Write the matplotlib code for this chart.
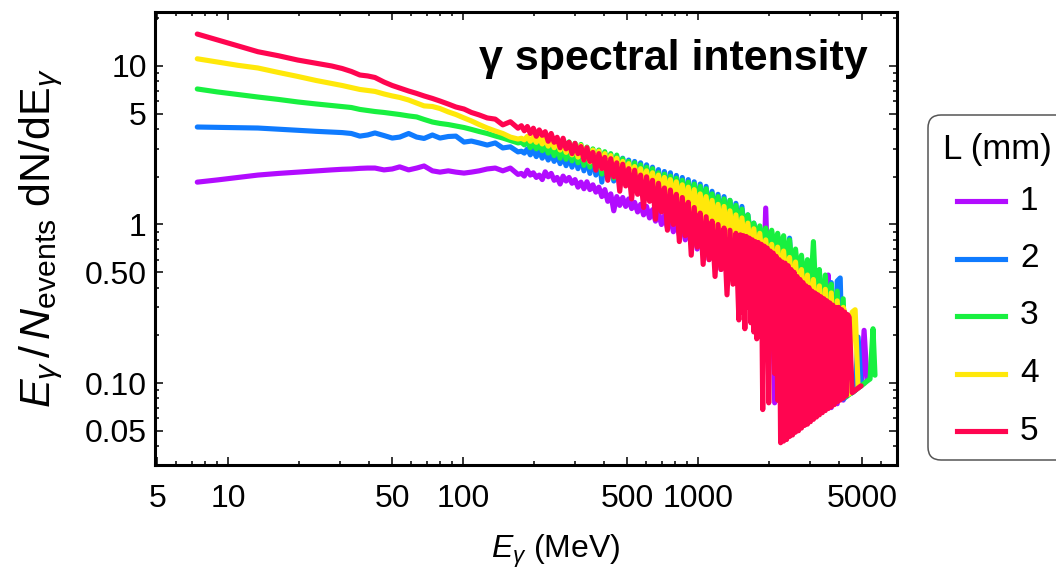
import matplotlib
matplotlib.use("Agg")
import matplotlib.pyplot as plt
from matplotlib.ticker import FixedLocator, FixedFormatter, NullFormatter
from matplotlib.patches import FancyBboxPatch
from matplotlib.lines import Line2D

plt.rcParams['font.family'] = ['Liberation Sans', 'DejaVu Sans']
plt.rcParams['mathtext.fontset'] = 'custom'
plt.rcParams['mathtext.rm'] = 'Liberation Sans'
plt.rcParams['mathtext.it'] = 'Liberation Sans:italic'
plt.rcParams['mathtext.bf'] = 'Liberation Sans:bold'

# ---------------------------------------------------------------- data
# photon energy sampling (MeV)
E_LOW = [7.4, 9.0, 11.0, 13.4, 16.4, 19.8, 23.7, 27.6, 30.6, 33.5, 36.4, 39.3,
         42.2, 46.1, 50.0, 53.8, 58.7, 63.5, 68.3, 74.1, 79.8, 86.6, 93.3, 101,
         108.6, 117.2, 126.8, 137.2, 147.7, 159.1, 171.4]

E_HIGH = [177.2, 182.4, 187.9, 193.4, 199.2, 205.1, 211.1, 217.4, 223.8, 230.5,
          237.3, 244.3, 251.5, 259.0, 266.7, 274.6, 282.7, 291.1, 299.7, 308.6,
          317.7, 327.1, 336.8, 346.8, 357.1, 367.7, 378.6, 389.8, 401.3, 413.2,
          425.5, 438.1, 451.1, 464.5, 478.3, 492.5, 507.1, 522.1, 537.6, 553.5,
          569.9, 586.8, 604.2, 622.1, 640.5, 659.5, 679.0, 699.1, 719.8, 741.2,
          763.1, 785.7, 809.0, 833.0, 857.6, 883.0, 909.2, 936.1, 963.9, 992.5,
          1022, 1052, 1083, 1115, 1148, 1182, 1217, 1253, 1291, 1329,
          1368, 1409, 1450, 1493, 1538, 1583, 1630, 1678, 1728, 1779,
          1832, 1886, 1942, 2000, 2059, 2120, 2183, 2247, 2314, 2382,
          2453, 2526, 2601, 2678, 2757, 2839, 2923, 3010, 3099, 3191,
          3286, 3383, 3483, 3586, 3692, 3802, 3914, 4030, 4150, 4273,
          4400, 4530, 4665, 4803, 4945, 5092, 5243, 5398, 5558]
E_LAST = [5666]

# finer sampling used for the L = 5 mm spectrum above 1.5 GeV
E_RED_FINE = [1493, 1515, 1537, 1560, 1583, 1606, 1630, 1654, 1678, 1703,
              1728, 1753, 1779, 1805, 1832, 1859, 1886, 1914, 1942, 1971,
              2000, 2029, 2059, 2089, 2120, 2151, 2183, 2215, 2247, 2280,
              2314, 2348, 2382, 2417, 2453, 2489, 2526, 2563, 2601, 2639,
              2678, 2717, 2757, 2798, 2839, 2881, 2923, 2966, 3010, 3054,
              3099, 3145, 3191, 3238, 3286, 3334, 3383, 3433, 3483, 3534,
              3586, 3639, 3692, 3747, 3802, 3858, 3914, 3972, 4030, 4089,
              4150, 4211, 4273, 4336, 4400]
E_RED_TAIL = [4530, 4665, 4803, 4945]

# E/N dN/dE, L = 1 mm
purple_low = [1.85, 1.91, 1.98, 2.05, 2.10, 2.14, 2.18, 2.21, 2.23, 2.24, 2.26,
              2.27, 2.27, 2.21, 2.24, 2.31, 2.21, 2.27, 2.34, 2.18, 2.14, 2.18,
              2.14, 2.11, 2.14, 2.18, 2.24, 2.27, 2.18, 2.27, 2.07]
purple_high = [2.1, 2.02, 2.2, 2.05, 2.12, 1.98, 2.05, 1.92, 2.15, 2.0,
               2.1, 1.9, 1.98, 1.8, 2.02, 1.88, 1.98, 1.82, 1.92, 1.72,
               1.85, 1.68, 1.86, 1.66, 1.78, 1.6, 1.72, 1.5, 1.66, 1.4,
               1.56, 1.22, 1.5, 1.32, 1.48, 1.3, 1.45, 1.26, 1.38, 1.2,
               1.34, 1.15, 1.3, 1.1, 1.24, 1.05, 1.18, 1.0, 1.14, 0.95,
               1.1, 0.9, 1.05, 0.86, 1.0, 0.8, 0.97, 0.75, 0.93, 0.7,
               0.9, 0.66, 0.86, 0.6, 0.82, 0.56, 0.8, 0.52, 0.76, 0.48,
               0.73, 0.45, 0.7, 0.42, 0.66, 0.38, 0.62, 0.35, 0.6, 0.32,
               0.56, 0.3, 1.27, 0.32, 0.5, 0.075, 0.46, 0.3, 0.48, 0.28,
               0.5, 0.25, 0.62, 0.22, 0.46, 0.2, 0.43, 0.16, 0.4, 0.13,
               0.36, 0.1, 0.34, 0.48, 0.07, 0.3, 0.074, 0.26, 0.078, 0.2,
               0.085, 0.087, 0.09, 0.093, 0.096, 0.215, 0.103]

# L = 2 mm
blue_low = [4.12, 4.10, 4.08, 4.06, 3.99, 3.93, 3.87, 3.83, 3.80, 3.75, 3.61,
            3.67, 3.78, 3.64, 3.51, 3.56, 3.75, 3.56, 3.49, 3.67, 3.51, 3.59,
            3.61, 3.31, 3.36, 3.27, 3.17, 3.27, 3.04, 3.09, 2.87]
blue_high = [2.9, 2.82, 3.0, 2.75, 2.95, 2.68, 2.9, 2.62, 2.85, 2.55,
             2.8, 2.5, 2.75, 2.42, 2.72, 2.35, 2.68, 2.3, 2.7, 2.25,
             2.75, 2.18, 2.7, 2.1, 2.72, 2.05, 2.75, 1.85, 2.8, 1.95,
             2.75, 1.88, 2.68, 1.8, 2.62, 1.82, 2.55, 1.72, 2.5, 1.65,
             2.45, 1.6, 2.38, 1.52, 2.3, 1.48, 2.22, 1.44, 2.16, 1.38,
             2.12, 1.33, 2.04, 1.28, 1.98, 1.25, 1.92, 1.2, 1.86, 1.15,
             1.8, 1.1, 1.74, 1.06, 1.62, 1.02, 1.55, 0.98, 1.5, 0.95,
             1.42, 0.92, 1.36, 0.9, 1.3, 0.86, 1.15, 0.82, 1.02, 0.75,
             0.95, 0.62, 0.88, 0.55, 0.84, 0.5, 0.8, 0.45, 0.74, 0.4,
             0.82, 0.38, 0.62, 0.32, 0.58, 0.28, 0.55, 0.25, 0.6, 0.22,
             0.5, 0.18, 0.45, 0.14, 0.43, 0.11, 0.44, 0.46, 0.079, 0.082,
             0.085, 0.087, 0.09, 0.195, 0.096]

# L = 3 mm
green_low = [7.16, 6.86, 6.61, 6.37, 6.15, 5.93, 5.76, 5.63, 5.55, 5.47, 5.32,
             5.24, 5.16, 5.09, 5.01, 4.94, 4.84, 4.77, 4.60, 4.43, 4.34, 4.27,
             4.18, 4.09, 3.98, 3.86, 3.75, 3.62, 3.51, 3.39, 3.27]
green_high = [3.3, 3.18, 3.35, 3.05, 3.28, 3.0, 3.25, 2.92, 3.2, 2.82,
              3.12, 2.72, 3.15, 2.62, 3.3, 2.58, 3.32, 2.52, 3.25, 2.45,
              3.2, 2.36, 3.08, 2.3, 3.0, 2.22, 2.95, 2.08, 2.88, 2.02,
              2.8, 1.96, 2.74, 1.92, 2.6, 1.85, 2.5, 1.78, 2.45, 1.72,
              2.38, 1.64, 2.3, 1.58, 2.25, 1.52, 2.12, 1.47, 2.08, 1.4,
              2.02, 1.36, 1.96, 1.31, 1.9, 1.28, 1.85, 1.25, 1.8, 1.18,
              1.74, 1.13, 1.68, 1.1, 1.56, 1.04, 1.5, 1.0, 1.45, 0.96,
              1.42, 0.92, 1.32, 0.9, 1.25, 0.86, 1.15, 0.84, 1.02, 0.8,
              0.98, 0.76, 0.95, 0.72, 0.92, 0.7, 0.88, 0.66, 0.85, 0.58,
              0.8, 0.5, 0.7, 0.45, 0.64, 0.4, 0.6, 0.36, 0.78, 0.3,
              0.52, 0.24, 0.48, 0.2, 0.42, 0.14, 0.38, 0.11, 0.34, 0.082,
              0.085, 0.087, 0.09, 0.093, 0.096, 0.099, 0.103, 0.106, 0.22,
              0.112]

# L = 4 mm
yellow_low = [11.1, 10.6, 10.1, 9.71, 9.10, 8.59, 8.10, 7.76, 7.53, 7.31, 7.11,
              7.01, 6.91, 6.66, 6.47, 6.33, 6.10, 5.84, 5.60, 5.55, 5.39, 5.13,
              4.94, 4.70, 4.50, 4.27, 4.06, 3.89, 3.75, 3.56, 3.46]
yellow_high = [3.5, 3.42, 3.6, 3.35, 3.55, 3.3, 3.55, 3.22, 3.48, 3.12,
               3.42, 3.05, 3.38, 2.95, 3.35, 2.85, 3.28, 2.75, 3.22, 2.66,
               3.15, 2.56, 3.05, 2.48, 2.95, 2.38, 2.9, 2.25, 2.8, 2.15,
               2.72, 2.08, 2.62, 2.0, 2.5, 1.93, 2.42, 1.87, 2.32, 1.8,
               2.25, 1.72, 2.18, 1.66, 2.12, 1.6, 2.05, 1.54, 1.98, 1.47,
               1.92, 1.4, 1.86, 1.33, 1.78, 1.27, 1.72, 1.2, 1.66, 1.14,
               1.56, 1.08, 1.5, 1.0, 1.42, 0.96, 1.34, 0.91, 1.3, 0.85,
               1.22, 0.8, 1.15, 0.76, 1.1, 0.72, 1.02, 0.66, 0.94, 0.6,
               0.88, 0.56, 0.8, 0.52, 0.75, 0.48, 0.72, 0.43, 0.68, 0.4,
               0.62, 0.37, 0.58, 0.33, 0.52, 0.3, 0.48, 0.26, 0.45, 0.22,
               0.41, 0.18, 0.39, 0.14, 0.37, 0.1, 0.33, 0.08, 0.3, 0.26,
               0.085, 0.28, 0.29, 0.093]

# L = 5 mm
red_low = [15.9, 14.6, 13.4, 12.3, 11.6, 10.9, 10.4, 10.0, 9.64, 9.23, 8.77,
           8.65, 8.46, 7.92, 7.53, 7.26, 6.95, 6.71, 6.47, 6.24, 6.01, 5.75,
           5.51, 5.35, 5.09, 4.91, 4.70, 4.62, 4.25, 4.45, 4.05]
red_mid = [4.2, 3.9, 4.15, 3.75, 4.05, 3.6, 3.95, 3.65, 3.85, 3.35,
           3.75, 3.3, 3.55, 3.05, 3.5, 3.0, 3.3, 2.8, 3.25, 2.8,
           3.1, 2.55, 3.05, 2.5, 2.85, 2.2, 2.8, 2.25, 2.65, 1.9,
           2.6, 2.0, 2.45, 1.62, 2.4, 1.75, 2.25, 1.45, 2.2, 1.55,
           2.05, 1.28, 2.0, 1.4, 1.9, 1.08, 1.82, 1.2, 1.7, 0.92,
           1.65, 1.0, 1.55, 0.78, 1.48, 0.85, 1.38, 0.64, 1.28, 0.72,
           1.18, 0.56, 1.12, 0.6, 1.05, 0.47, 1.0, 0.52, 0.95, 0.36,
           0.92, 0.42, 0.88]
red_fine = [0.25, 0.86, 0.28, 0.85, 0.22, 0.84, 0.3, 0.82, 0.24, 0.8,
            0.21, 0.78, 0.19, 0.77, 0.2, 0.75, 0.068, 0.73, 0.2, 0.71,
            0.075, 0.68, 0.18, 0.66, 0.115, 0.63, 0.078, 0.6, 0.042, 0.58,
            0.043, 0.57, 0.044, 0.55, 0.046, 0.52, 0.047, 0.5, 0.049, 0.47,
            0.05, 0.45, 0.052, 0.43, 0.054, 0.41, 0.055, 0.4, 0.057, 0.38,
            0.059, 0.37, 0.061, 0.36, 0.063, 0.35, 0.065, 0.34, 0.067, 0.33,
            0.069, 0.32, 0.071, 0.31, 0.073, 0.3, 0.076, 0.3, 0.078, 0.29,
            0.08, 0.28, 0.083, 0.27, 0.26]
red_tail = [0.087, 0.09, 0.093, 0.096]

thickness_labels = ['1', '2', '3', '4', '5']
colors = ['#B20CFF', '#0F7BFF', '#18F040', '#FFE80A', '#FF0550']

x_major = [5, 10, 50, 100, 500, 1000, 5000]
x_major_labels = ['5', '10', '50', '100', '500', '1000', '5000']
x_minor = [6, 7, 8, 9, 20, 30, 40, 60, 70, 80, 90, 200, 300, 400, 600, 700,
           800, 900, 2000, 3000, 4000, 6000]
y_major = [0.05, 0.1, 0.5, 1, 5, 10]
y_major_labels = ['0.05', '0.10', '0.50', '1', '5', '10']
y_minor = [0.04, 0.06, 0.07, 0.08, 0.09, 0.2, 0.3, 0.4, 0.6, 0.7, 0.8, 0.9,
           2, 3, 4, 6, 7, 8, 9, 20]

E_ALL = E_LOW + E_HIGH + E_LAST
E_RED = E_LOW + E_HIGH[:len(red_mid)] + E_RED_FINE + E_RED_TAIL
series = [
    (E_ALL[:len(purple_low + purple_high)], purple_low + purple_high),
    (E_ALL[:len(blue_low + blue_high)], blue_low + blue_high),
    (E_ALL[:len(green_low + green_high)], green_low + green_high),
    (E_ALL[:len(yellow_low + yellow_high)], yellow_low + yellow_high),
    (E_RED, red_low + red_mid + red_fine + red_tail),
]

# ---------------------------------------------------------------- figure
W, H = 1056, 576
fig = plt.figure(figsize=(W / 100, H / 100), dpi=100)
ax = fig.add_axes([155 / W, 1 - 465 / H, 742 / W, 453 / H])

LW = 3.7
for (energy, value), color in zip(series, colors):
    ax.plot(energy, value, color=color, lw=LW, solid_joinstyle='round',
            solid_capstyle='round')

ax.set_xscale('log')
ax.set_yscale('log')
ax.set_xlim(4.89, 7030)
ax.set_ylim(0.0304, 21.9)

ax.xaxis.set_major_locator(FixedLocator(x_major))
ax.xaxis.set_major_formatter(FixedFormatter(x_major_labels))
ax.xaxis.set_minor_locator(FixedLocator(x_minor))
ax.xaxis.set_minor_formatter(NullFormatter())
ax.yaxis.set_major_locator(FixedLocator(y_major))
ax.yaxis.set_major_formatter(FixedFormatter(y_major_labels))
ax.yaxis.set_minor_locator(FixedLocator(y_minor))
ax.yaxis.set_minor_formatter(NullFormatter())

ax.tick_params(which='both', direction='in', top=True, right=True,
               width=1.1, colors='black', labelsize=23)
ax.tick_params(which='major', length=6)
ax.tick_params(which='minor', length=3)
ax.tick_params(axis='x', which='major', pad=14)
ax.tick_params(axis='y', which='major', pad=6)
for sp in ax.spines.values():
    sp.set_linewidth(2.2)

ax.set_xlabel(r'$E_\gamma$ (MeV)', fontsize=23)
ax.xaxis.set_label_coords(0.54, -0.15)
ax.set_ylabel(r'$E_\gamma\,/\,N_{\mathrm{events}}\ \mathrm{dN/dE}_\gamma$', fontsize=31)
ax.yaxis.set_label_coords(-0.121, 0.5)

ax.text(0.961, 0.872, 'γ spectral intensity', transform=ax.transAxes,
        ha='right', va='baseline', fontsize=31, fontweight='bold')

# legend panel, drawn in inches on the figure
box = FancyBboxPatch((9.28, 1.16), 1.6, 3.45,
                     boxstyle='round,pad=0,rounding_size=0.13',
                     transform=fig.dpi_scale_trans, facecolor='white',
                     edgecolor='#555555', lw=1.1, clip_on=False)
fig.add_artist(box)
fig.text(9.43, (H - 150) / 100, 'L (mm)', transform=fig.dpi_scale_trans,
         fontsize=25, ha='left', va='center')
for k, (lab, color) in enumerate(zip(thickness_labels, colors)):
    y_in = (H - (201 + 57.5 * k)) / 100
    fig.add_artist(Line2D([9.57, 10.05], [y_in, y_in], color=color, lw=LW,
                          transform=fig.dpi_scale_trans))
    fig.text(10.20, y_in, lab, transform=fig.dpi_scale_trans, fontsize=24,
             ha='left', va='center')

fig.savefig('out.png', dpi=100)
